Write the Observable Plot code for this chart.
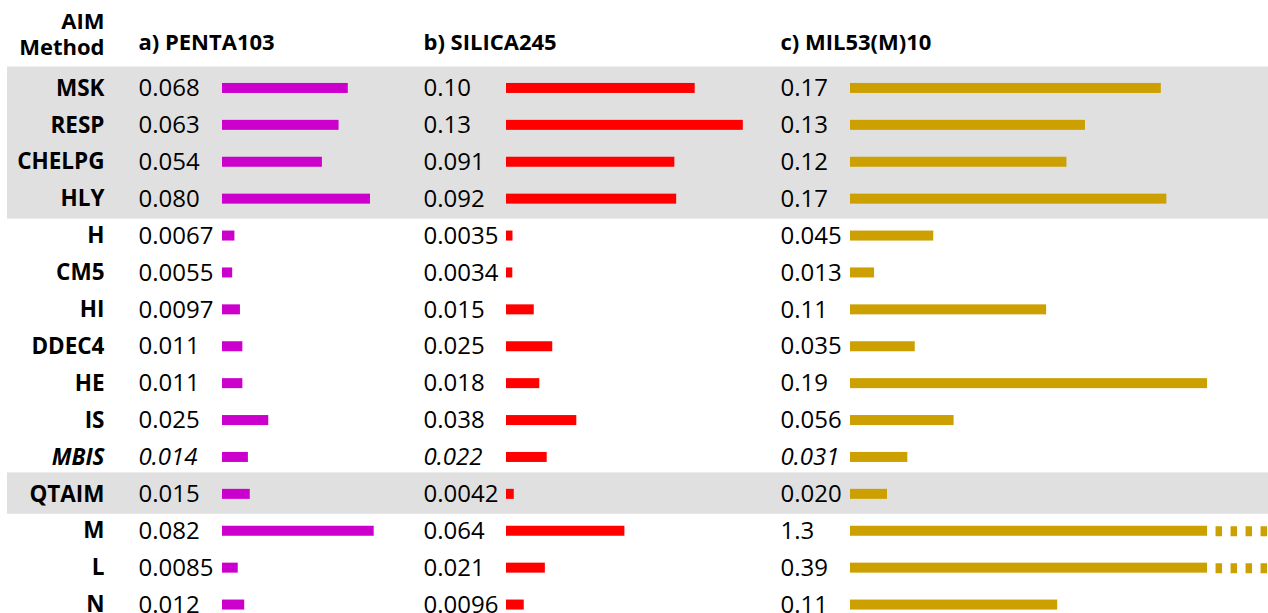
<!DOCTYPE html>
<html><head><meta charset="utf-8">
<script src="https://cdn.jsdelivr.net/npm/d3@7"></script>
<script src="https://cdn.jsdelivr.net/npm/@observablehq/plot@0.6"></script>
<style>
body{margin:0;background:#fff;}
#chart{position:relative;width:1268px;height:613px;overflow:hidden;font-family:"Open Sans",sans-serif;}
#chart svg{position:absolute;top:0;}
</style></head><body><div id="chart"></div>
<script>
// ---- data ----
const methods = ["MSK","RESP","CHELPG","HLY","H","CM5","HI","DDEC4","HE","IS","MBIS","QTAIM","M","L","N"];
const shadedMethods = ["MSK","RESP","CHELPG","HLY","QTAIM"];
const italicMethods = ["MBIS"];
const headerLabel = "AIM\nMethod";
const panelTitles = ["a) PENTA103","b) SILICA245","c) MIL53(M)10"];
const penta103 = [0.068,0.063,0.054,0.080,0.0067,0.0055,0.0097,0.011,0.011,0.025,0.014,0.015,0.082,0.0085,0.012];
const silica245 = [0.102,0.128,0.091,0.092,0.0035,0.0034,0.015,0.025,0.018,0.038,0.022,0.0042,0.064,0.021,0.0096];
const mil53 = [0.168,0.127,0.117,0.171,0.045,0.013,0.106,0.035,0.193,0.056,0.031,0.020,1.3,0.39,0.112];
const panelColors = ["#cc00cc","#ff0000","#cca000"];
const axisBreak = 0.193; // bars longer than this are cut and continued dashed

// ---- layout ----
const W = 1268, H = 613;
const pxPerUnit = 1850;
const rowStep = 36.9, rowTop = 69.5;
const fmt = d3.format(".2r");
const font = "Open Sans";
const chart = document.getElementById("chart");
const yOpts = {domain: methods, range: [rowTop, rowTop + rowStep * methods.length], padding: 0, round: false, axis: null};
const baseStyle = {fontFamily: font, background: "transparent", overflow: "visible", color: "#000"};
function place(svg, left) { svg.style.left = left + "px"; chart.appendChild(svg); }

// background: shaded rows, method labels, header
const bg = Plot.plot({
  width: W, height: H, marginLeft: 7, marginRight: 0, marginTop: 0, marginBottom: 0,
  y: yOpts, style: baseStyle,
  marks: [
    Plot.cell(shadedMethods, {y: d => d, fill: "#e0e0e0", inset: 0, insetTop: -3, insetBottom: -1.5}),
    Plot.text(methods, {filter: d => !italicMethods.includes(d), y: d => d, text: d => d, frameAnchor: "left", textAnchor: "end", dx: 97, fontWeight: "bold", fontSize: 22.5}),
    Plot.text(methods, {filter: d => italicMethods.includes(d), y: d => d, text: d => d, frameAnchor: "left", textAnchor: "end", dx: 97, fontWeight: "bold", fontStyle: "italic", fontSize: 22.5}),
    Plot.text([headerLabel], {frameAnchor: "top-left", textAnchor: "end", lineAnchor: "middle", dx: 97, dy: 33, fontWeight: "bold", fontSize: 22, lineHeight: 1.2})
  ]
});
place(bg, 0);

function panel(title, values, color, left, width, barOffset) {
  const rows = methods.map((m, i) => ({method: m, value: values[i]}));
  const xmax = (width - barOffset) / pxPerUnit;
  const inset = (rowStep - 10) / 2;
  const svg = Plot.plot({
    width, height: H, margin: 0,
    y: yOpts,
    x: {domain: [0, xmax], range: [barOffset, width], round: false, axis: null},
    style: baseStyle,
    marks: [
      Plot.barX(rows, {y: "method", x1: 0, x2: d => Math.min(d.value, axisBreak), fill: color, insetTop: inset, insetBottom: inset}),
      Plot.ruleY(rows.filter(d => d.value > axisBreak), {y: "method", x1: axisBreak, x2: xmax, stroke: color, strokeWidth: 10, strokeDasharray: "6.5 8.5", strokeDashoffset: 6.5}),
      Plot.text(rows, {filter: d => !italicMethods.includes(d.method), y: "method", text: d => fmt(d.value), frameAnchor: "left", textAnchor: "start", fontSize: 24}),
      Plot.text(rows, {filter: d => italicMethods.includes(d.method), y: "method", text: d => fmt(d.value), frameAnchor: "left", textAnchor: "start", fontSize: 24, fontStyle: "italic"}),
      Plot.text([title], {frameAnchor: "top-left", textAnchor: "start", lineAnchor: "middle", dy: 42, fontWeight: "bold", fontSize: 22})
    ]
  });
  place(svg, left);
}

panel(panelTitles[0], penta103, panelColors[0], 138, 282, 84);
panel(panelTitles[1], silica245, panelColors[1], 423, 357, 83);
panel(panelTitles[2], mil53, panelColors[2], 780, 488, 70);
</script></body></html>
